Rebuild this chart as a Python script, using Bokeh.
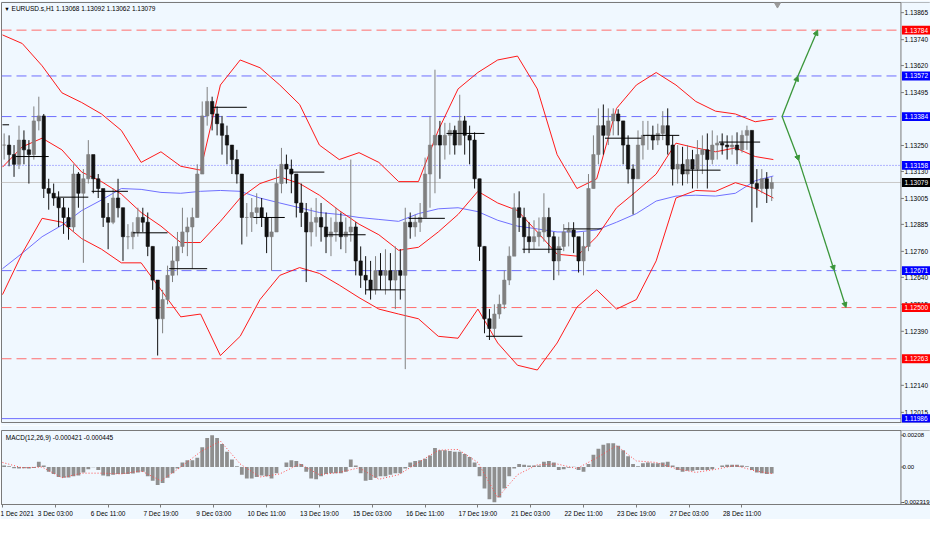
from bokeh.plotting import figure
from bokeh.models import Range1d, FixedTicker, Label, Arrow, NormalHead, Span
from bokeh.core.properties import value
from bokeh.layouts import column
from bokeh.embed import file_html
from bokeh.resources import INLINE

BG = "#f0f8ff"
FONT = "Liberation Sans"
FS = "6.5px"

# ---------------- data (EURUSD.s H1, 3-bar samples) ----------------
high = [1.13306, 1.13297, 1.13252, 1.13342, 1.13320, 1.13275, 1.13431, 1.13476, 1.13396, 1.13096,
        1.13074, 1.13038, 1.13007, 1.12962, 1.13163, 1.13127, 1.13141, 1.13275, 1.13163, 1.13118,
        1.13029, 1.12984, 1.13051, 1.13096, 1.12962, 1.12886, 1.12895, 1.12962, 1.12962, 1.12940,
        1.12783, 1.12627, 1.12582, 1.12694, 1.12783, 1.12850, 1.12962, 1.12917, 1.12962, 1.13163,
        1.13454, 1.13521, 1.13476, 1.13431, 1.13387, 1.13342, 1.13252, 1.13230, 1.13118, 1.12984,
        1.13007, 1.13029, 1.13007, 1.12940, 1.12917, 1.13141, 1.13239, 1.13208, 1.13185, 1.13118,
        1.13074, 1.12984, 1.12962, 1.13007, 1.12984, 1.12940, 1.12917, 1.12962, 1.12940, 1.12917,
        1.13185, 1.12895, 1.12783, 1.12738, 1.12716, 1.12738, 1.12752, 1.12770, 1.12752, 1.12783,
        1.12770, 1.12962, 1.12940, 1.12931, 1.12984, 1.13194, 1.13387, 1.13601, 1.13364, 1.13355,
        1.13355, 1.13342, 1.13485, 1.13387, 1.13342, 1.13311, 1.13096, 1.12783, 1.12493, 1.12515,
        1.12560, 1.12671, 1.12783, 1.13029, 1.13038, 1.12962, 1.12895, 1.12904, 1.12917, 1.13029,
        1.12962, 1.12850, 1.12828, 1.12886, 1.12895, 1.12895, 1.12814, 1.12850, 1.13118, 1.13297,
        1.13422, 1.13440, 1.13422, 1.13422, 1.13418, 1.13364, 1.13297, 1.13163, 1.13320, 1.13364,
        1.13364, 1.13342, 1.13351, 1.13409, 1.13422, 1.13297, 1.13252, 1.13244, 1.13252, 1.13230,
        1.13275, 1.13297, 1.13306, 1.13320, 1.13297, 1.13306, 1.13297, 1.13297, 1.13311, 1.13320,
        1.13342, 1.13320, 1.13141, 1.13141, 1.13127, 1.13105]
low = [1.13185, 1.13154, 1.13105, 1.13141, 1.13163, 1.13074, 1.13185, 1.13320, 1.13007, 1.12953,
       1.12971, 1.12873, 1.12841, 1.12814, 1.12850, 1.12962, 1.12707, 1.13074, 1.13029, 1.13007,
       1.12873, 1.12770, 1.12886, 1.12917, 1.12716, 1.12770, 1.12770, 1.12828, 1.12850, 1.12738,
       1.12582, 1.12278, 1.12381, 1.12515, 1.12618, 1.12649, 1.12752, 1.12738, 1.12680, 1.12917,
       1.13118, 1.13342, 1.13320, 1.13297, 1.13208, 1.13163, 1.13118, 1.13074, 1.12792, 1.12828,
       1.12850, 1.12886, 1.12873, 1.12752, 1.12671, 1.12850, 1.13029, 1.13074, 1.13029, 1.12917,
       1.12873, 1.12618, 1.12783, 1.12828, 1.12805, 1.12752, 1.12738, 1.12805, 1.12770, 1.12752,
       1.12805, 1.12649, 1.12591, 1.12560, 1.12537, 1.12560, 1.12582, 1.12560, 1.12582, 1.12493,
       1.12537, 1.12215, 1.12819, 1.12828, 1.12850, 1.12940, 1.12962, 1.13029, 1.13096, 1.13185,
       1.13208, 1.13208, 1.13252, 1.13208, 1.13163, 1.13051, 1.12716, 1.12381, 1.12350, 1.12358,
       1.12448, 1.12493, 1.12604, 1.12752, 1.12850, 1.12752, 1.12752, 1.12770, 1.12783, 1.12805,
       1.12752, 1.12627, 1.12649, 1.12761, 1.12783, 1.12752, 1.12662, 1.12649, 1.12761, 1.13051,
       1.13163, 1.13208, 1.13252, 1.13297, 1.13297, 1.13163, 1.13074, 1.12931, 1.13096, 1.13185,
       1.13230, 1.13230, 1.13252, 1.13275, 1.13208, 1.13065, 1.13074, 1.13065, 1.13074, 1.13051,
       1.13051, 1.13118, 1.13051, 1.13163, 1.13185, 1.13208, 1.13185, 1.13208, 1.13163, 1.13217,
       1.13230, 1.12895, 1.12962, 1.13029, 1.12984, 1.12993]
close = [1.13252, 1.13208, 1.13163, 1.13275, 1.13230, 1.13208, 1.13364, 1.13387, 1.13051, 1.13029,
         1.13007, 1.12962, 1.12917, 1.12873, 1.13118, 1.13029, 1.13096, 1.13208, 1.13096, 1.13051,
         1.12917, 1.12895, 1.13007, 1.12962, 1.12828, 1.12828, 1.12850, 1.12917, 1.12895, 1.12783,
         1.12627, 1.12448, 1.12537, 1.12649, 1.12716, 1.12783, 1.12850, 1.12873, 1.12917, 1.13118,
         1.13387, 1.13454, 1.13396, 1.13351, 1.13297, 1.13252, 1.13185, 1.13118, 1.12917, 1.12917,
         1.12940, 1.12962, 1.12917, 1.12828, 1.12850, 1.13074, 1.13163, 1.13141, 1.13118, 1.12984,
         1.12940, 1.12850, 1.12895, 1.12917, 1.12873, 1.12828, 1.12850, 1.12895, 1.12828, 1.12850,
         1.12873, 1.12716, 1.12649, 1.12627, 1.12582, 1.12671, 1.12649, 1.12671, 1.12627, 1.12671,
         1.12649, 1.12895, 1.12873, 1.12895, 1.12917, 1.13118, 1.13252, 1.13297, 1.13252, 1.13297,
         1.13320, 1.13252, 1.13364, 1.13297, 1.13275, 1.13096, 1.12783, 1.12448, 1.12403, 1.12470,
         1.12515, 1.12627, 1.12738, 1.12962, 1.12917, 1.12828, 1.12805, 1.12828, 1.12850, 1.12917,
         1.12828, 1.12716, 1.12783, 1.12850, 1.12859, 1.12828, 1.12716, 1.12783, 1.13051, 1.13208,
         1.13342, 1.13297, 1.13364, 1.13396, 1.13364, 1.13252, 1.13141, 1.13096, 1.13252, 1.13297,
         1.13297, 1.13275, 1.13306, 1.13342, 1.13252, 1.13141, 1.13163, 1.13118, 1.13185, 1.13141,
         1.13208, 1.13230, 1.13185, 1.13252, 1.13261, 1.13252, 1.13244, 1.13252, 1.13230, 1.13297,
         1.13320, 1.13074, 1.13051, 1.13096, 1.13051, 1.13079]

# indicator readings at every 12th bar
band_idx = [0, 12, 24, 36, 48, 60, 72, 84, 96, 108, 120, 132, 144, 156, 168, 180, 192, 204, 216, 228,
            240, 252, 264, 276, 288, 300, 312, 324, 336, 348, 360, 372, 384, 396, 408, 420, 432, 444, 456, 467]
bb_upper = [1.13762, 1.13722, 1.13619, 1.13494, 1.13449, 1.13396, 1.13320, 1.13172, 1.13221, 1.13154,
            1.13136, 1.13530, 1.13646, 1.13610, 1.13530, 1.13440, 1.13252, 1.13185, 1.13217, 1.13172,
            1.13083, 1.13083, 1.13320, 1.13512, 1.13588, 1.13646, 1.13664, 1.13512, 1.13208, 1.13051,
            1.13096, 1.13422, 1.13530, 1.13588, 1.13530, 1.13454, 1.13409, 1.13396, 1.13360, 1.13373]
bb_middle = [1.13150, 1.13244, 1.13284, 1.13230, 1.13127, 1.13083, 1.13025, 1.12940, 1.12877, 1.12801,
             1.12801, 1.12899, 1.13007, 1.13074, 1.13105, 1.13074, 1.13020, 1.12949, 1.12886, 1.12837,
             1.12765, 1.12779, 1.12850, 1.12931, 1.13038, 1.12984, 1.12949, 1.12850, 1.12747, 1.12738,
             1.12828, 1.12962, 1.13038, 1.13118, 1.13261, 1.13239, 1.13221, 1.13239, 1.13199, 1.13185]
bb_lower = [1.12560, 1.12752, 1.12913, 1.12895, 1.12819, 1.12770, 1.12707, 1.12707, 1.12582, 1.12457,
            1.12470, 1.12278, 1.12367, 1.12537, 1.12649, 1.12685, 1.12658, 1.12604, 1.12546, 1.12493,
            1.12470, 1.12448, 1.12367, 1.12358, 1.12493, 1.12336, 1.12233, 1.12211, 1.12336, 1.12502,
            1.12582, 1.12493, 1.12537, 1.12716, 1.13007, 1.13042, 1.13038, 1.13078, 1.13051, 1.13007]
ma_slow = [1.12680, 1.12752, 1.12828, 1.12881, 1.12949, 1.12998, 1.13051, 1.13047, 1.13033, 1.13029,
           1.13038, 1.13042, 1.13038, 1.13007, 1.12984, 1.12962, 1.12940, 1.12931, 1.12917, 1.12908,
           1.12899, 1.12935, 1.12957, 1.12962, 1.12944, 1.12904, 1.12877, 1.12864, 1.12850, 1.12850,
           1.12859, 1.12895, 1.12935, 1.12993, 1.13016, 1.13020, 1.13016, 1.13029, 1.13087, 1.13109]
macd_signal = [0.00030, -0.00005, 0.00000, -0.00070, -0.00040, -0.00040, -0.00045, -0.00025, -0.00090, 0.00000,
               0.00100, 0.00170, 0.00020, -0.00065, -0.00045, 0.00020, -0.00050, -0.00035, -0.00005, -0.00080,
               -0.00050, 0.00030, 0.00110, 0.00115, 0.00030, -0.00200, -0.00050, 0.00015, 0.00020, -0.00010,
               0.00060, 0.00140, 0.00040, 0.00030, -0.00010, -0.00035, -0.00015, 0.00010, -0.00025, -0.000445]
macd_main = [0.00010, 0.00005, -0.00008, -0.00010, -0.00008, -0.00010, -0.00006, 0.00035, 0.00010, -0.00030,
             -0.00045, -0.00065, -0.00070, -0.00068, -0.00060, -0.00055, -0.00035, -0.00015, -0.00002, -0.00020,
             -0.00055, -0.00060, -0.00050, -0.00045, -0.00045, -0.00045, -0.00042, -0.00035, -0.00030, -0.00060,
             -0.00090, -0.00118, -0.00105, -0.00070, -0.00040, -0.00010, 0.00030, 0.00045, 0.00045, 0.00060,
             0.00130, 0.00190, 0.00208, 0.00190, 0.00150, 0.00100, 0.00050, 0.00005, -0.00050, -0.00075,
             -0.00075, -0.00065, -0.00055, -0.00060, -0.00075, -0.00040, 0.00000, 0.00030, 0.00045, 0.00040,
             0.00020, -0.00030, -0.00075, -0.00080, -0.00060, -0.00045, -0.00040, -0.00040, -0.00040, -0.00030,
             0.00050, 0.00010, -0.00040, -0.00090, -0.00085, -0.00070, -0.00060, -0.00060, -0.00050, -0.00040,
             -0.00040, -0.00010, 0.00030, 0.00040, 0.00045, 0.00055, 0.00075, 0.00125, 0.00110, 0.00110,
             0.00105, 0.00100, 0.00100, 0.00085, 0.00065, 0.00030, -0.00060, -0.00140, -0.00210, -0.00230,
             -0.00200, -0.00140, -0.00060, -0.00010, 0.00020, 0.00015, 0.00010, 0.00010, 0.00010, 0.00035,
             0.00040, 0.00030, -0.00020, -0.00015, -0.00005, 0.00002, -0.00020, -0.00030, 0.00020, 0.00080,
             0.00120, 0.00145, 0.00155, 0.00155, 0.00140, 0.00110, 0.00070, 0.00020, 0.00005, 0.00025,
             0.00030, 0.00025, 0.00025, 0.00030, 0.00035, 0.00010, -0.00020, -0.00030, -0.00025, -0.00025,
             -0.00020, -0.00020, -0.00020, -0.00015, 0.00000, 0.00010, 0.00015, 0.00015, 0.00015, 0.00010,
             0.00005, -0.00020, -0.00035, -0.00040, -0.00045, -0.000421]

# daily level segments (bar index start, end, price)
seg_start = [0, 8, 32, 54, 79, 101, 127, 152, 174, 196, 220, 246, 269, 293, 315, 340, 365, 388, 412, 434]
seg_end = [4, 28, 52, 76, 100, 124, 148, 171, 195, 220, 244, 268, 292, 315, 339, 363, 387, 410, 435, 459]
seg_level = [1.13346, 1.13199, 1.13011, 1.13038, 1.12846, 1.12680, 1.13427, 1.12917, 1.13127, 1.12837,
             1.12582, 1.12913, 1.13306, 1.12367, 1.12770, 1.12864, 1.13284, 1.13297, 1.13136, 1.13266]

# horizontal levels
level_price = [1.13784, 1.13572, 1.13384, 1.13158, 1.13079, 1.12671, 1.12500, 1.12263, 1.11986]
level_label = ["1.13784", "1.13572", "1.13384", "1.13158", "1.13079", "1.12671", "1.12500", "1.12263", "1.11986"]
level_style = [("#ff6e6e", "10 5", "#ff0000"), ("#6e6eff", "10 5", "#0000ff"), ("#6e6eff", "10 5", "#0000ff"),
               ("#6e6eff", "1 2", "#0000ff"), ("#c8c8c8", "solid", "#000000"), ("#6e6eff", "10 5", "#0000ff"),
               ("#ff6e6e", "10 5", "#ff0000"), ("#ff6e6e", "10 5", "#ff0000"), ("#6e6eff", "solid", "#0000ff")]

price_ticks = [1.13865, 1.13740, 1.13620, 1.13495, 1.13250, 1.13130, 1.13005, 1.12885, 1.12760,
               1.12640, 1.12515, 1.12390, 1.12140, 1.12015]
macd_ticks = [0.00208, 0.0, -0.002319]
macd_tick_labels = ["0.00208", "0.00", "-0.002319"]
time_ticks = [0, 32, 64, 96, 128, 160, 192, 224, 256, 288, 320, 352, 384, 416, 448]
time_labels = ["1 Dec 2021", "3 Dec 03:00", "6 Dec 11:00", "7 Dec 19:00", "9 Dec 03:00", "10 Dec 11:00",
               "13 Dec 19:00", "15 Dec 03:00", "16 Dec 11:00", "17 Dec 19:00", "21 Dec 03:00",
               "22 Dec 11:00", "23 Dec 19:00", "27 Dec 03:00", "28 Dec 11:00"]

# projected path arrows (bar index, price)
up_path_idx = [472.3, 481.9, 493.8]
up_path_price = [1.13384, 1.13572, 1.13784]
down_path_idx = [472.3, 482.5, 503.9, 511.0]
down_path_price = [1.13384, 1.13180, 1.12671, 1.12500]

# ---------------- layout constants ----------------
X0, X1 = -0.6, 562.2      # visible bar-index span (chart + price scale)
AX = 544.3                # bar index where the price scale begins
LBL = AX + 2.2            # label start
AXC = "#7a7a7a"

n = len(close)
xs = [3 * i + 1 for i in range(n)]
opens = [close[0]] + close[:-1]
colors = ["#808080" if c >= o else "#111111" for o, c in zip(opens, close)]
tops = [max(o, c) for o, c in zip(opens, close)]
bots = [min(o, c) for o, c in zip(opens, close)]

xr = Range1d(X0, X1)
Y0, Y1 = 1.11968, 1.13912


def price_scale(fig, ticks, labels, y0, y1, lx=None, fs=FS):
    # background of the scale column hides the level lines there
    fig.quad(left=[AX], right=[X1 + 1], bottom=[y0 - 1], top=[y1 + 1], fill_color=BG, line_color=None)
    fig.line([AX, AX], [y0, y1], line_color=AXC, line_width=1)
    fig.segment(x0=[AX] * len(ticks), y0=ticks, x1=[AX + 1.8] * len(ticks), y1=ticks,
                line_color=AXC, line_width=1)
    fig.text(x=[LBL if lx is None else lx] * len(ticks), y=ticks, text=labels, text_font=value(FONT),
             text_font_size=value(fs), text_baseline="middle", text_align="left",
             text_color="#000000")


p = figure(width=930, height=425, x_range=xr, y_range=Range1d(Y0, Y1),
           output_backend="svg", toolbar_location=None, x_axis_location=None,
           y_axis_location=None, min_border_left=1, min_border_right=0,
           min_border_top=2, min_border_bottom=3, background_fill_color=BG,
           border_fill_color=BG, outline_line_color=AXC)
p.grid.visible = False

for lp, (lc, ld, bc) in zip(level_price, level_style):
    p.add_layout(Span(location=lp, dimension="width", line_color=lc, line_dash=ld,
                      line_width=1, level="underlay"))

# indicators
p.line(band_idx, ma_slow, line_color="#7070ff", line_width=1)
p.line(band_idx, bb_upper, line_color="#ff1a1a", line_width=1)
p.line(band_idx, bb_middle, line_color="#ff1a1a", line_width=1)
p.line(band_idx, bb_lower, line_color="#ff1a1a", line_width=1)

# candles
p.segment(x0=xs, y0=low, x1=xs, y1=high, line_color=colors, line_width=1)
p.vbar(x=xs, width=2.0, top=tops, bottom=bots, fill_color=colors, line_color=colors, line_width=0.6)

# daily levels
p.segment(x0=seg_start, y0=seg_level, x1=seg_end, y1=seg_level, line_color="#000000", line_width=1)

# arrows
GREEN = "#3a963a"
for path_x, path_y in ((up_path_idx, up_path_price), (down_path_idx, down_path_price)):
    for k in range(len(path_x) - 1):
        p.add_layout(Arrow(end=NormalHead(size=5, fill_color=GREEN, line_color=GREEN),
                           x_start=path_x[k], y_start=path_y[k], x_end=path_x[k + 1], y_end=path_y[k + 1],
                           line_color=GREEN, line_width=1.3))

# shift marker
p.scatter([469.5], [1.13905], marker="inverted_triangle", size=7, fill_color="#9a9a9a", line_color="#9a9a9a")

# header
p.add_layout(Label(x=1.0, y=1.13882, text="\u25bc", text_font=FONT, text_font_size="5.5px",
                   text_baseline="middle", text_color="#000000"))
p.add_layout(Label(x=5.5, y=1.13882, text="EURUSD.s,H1  1.13068 1.13092 1.13062 1.13079",
                   text_font=FONT, text_font_size=FS, text_baseline="middle", text_color="#000000"))

# price scale
price_scale(p, price_ticks, ["%.5f" % t for t in price_ticks], Y0, Y1)

# price boxes on the scale
HB = 0.000205
box_colors = [s[2] for s in level_style]
p.quad(left=[AX + 0.6] * len(level_price), right=[X1] * len(level_price),
       top=[lp + HB for lp in level_price], bottom=[lp - HB for lp in level_price],
       fill_color=box_colors, line_color=None)
p.text(x=[LBL] * len(level_price), y=level_price, text=level_label, text_font=value(FONT),
       text_font_size=value(FS), text_baseline="middle", text_align="left", text_color="#ffffff")

# ---------------- MACD ----------------
M0, M1 = -0.00245, 0.00239
p2 = figure(width=930, height=94, x_range=xr, y_range=Range1d(M0, M1),
            output_backend="svg", toolbar_location=None, y_axis_location=None,
            x_axis_location="below", min_border_left=1, min_border_right=0,
            min_border_top=5, min_border_bottom=14, background_fill_color=BG,
            border_fill_color=BG, outline_line_color=AXC)
p2.grid.visible = False
p2.vbar(x=xs, width=2.3, top=macd_main, bottom=0, fill_color="#8f8f8f", line_color=None)
p2.line(band_idx, macd_signal, line_color="#ff4a4a", line_dash="1 2", line_width=1)
price_scale(p2, macd_ticks, macd_tick_labels, M0, M1, lx=AX + 0.9, fs="6px")

ax2 = p2.xaxis[0]
ax2.ticker = FixedTicker(ticks=time_ticks)
ax2.major_label_overrides = {t: s for t, s in zip(time_ticks, time_labels)}
ax2.major_label_text_align = "left"
ax2.major_label_text_font = FONT
ax2.major_label_text_font_size = FS
ax2.major_label_text_color = "#000000"
ax2.axis_line_color = AXC
ax2.major_tick_line_color = AXC
ax2.major_tick_out = 3
ax2.major_tick_in = 0
ax2.minor_tick_out = 0
ax2.minor_tick_in = 0
ax2.major_label_standoff = 2

p2.add_layout(Label(x=2.0, y=0.00196, text="MACD(12,26,9) -0.000421 -0.000445",
                    text_font=FONT, text_font_size=FS, text_baseline="middle", text_color="#000000"))

layout = column(p, p2, spacing=0)
open("out.html", "w").write(file_html(layout, INLINE))
